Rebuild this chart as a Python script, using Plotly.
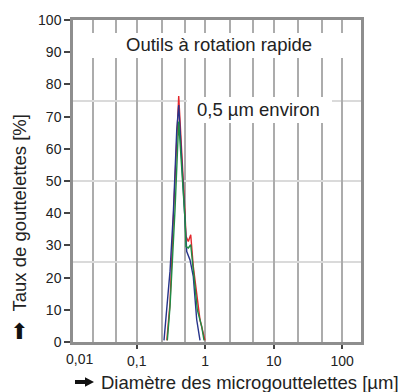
import plotly.graph_objects as go

# ---- data ----
diam_red = [0.275, 0.306, 0.345, 0.410, 0.507, 0.524, 0.566, 0.614, 0.670, 0.751, 0.839, 0.993]
taux_red = [0.5, 12, 40, 76.4, 40, 32.8, 31.2, 33.3, 23.4, 14.1, 6.9, 0.5]

diam_blue = [0.250, 0.274, 0.306, 0.342, 0.384, 0.410, 0.507, 0.537, 0.600, 0.670, 0.751, 0.839]
taux_blue = [0.5, 10, 22, 40, 66, 73.6, 37, 28.1, 25.5, 20.3, 6.9, 0.5]

diam_green = [0.2795, 0.306, 0.362, 0.410, 0.507, 0.524, 0.566, 0.614, 0.670, 0.767, 0.889, 0.960]
taux_green = [0.5, 11, 41, 68.5, 38, 29.6, 29.2, 30.2, 22.4, 10, 4.8, 0.5]

x_major_vals = [0.1, 1, 10, 100]
x_major_text = ["0,1", "1", "10", "100"]
x_grid_vals = [0.023, 0.05, 0.23, 0.5, 2.3, 5, 23, 50]
y_tick_vals = list(range(0, 101, 10))
y_grid_vals = [25, 50, 75]

title_text = "Outils à rotation rapide"
note_text = "0,5 µm environ"
x_title = "Diamètre des microgouttelettes [µm]"
y_title = "Taux de gouttelettes [%]"

FONT = "Liberation Sans, Arial, Helvetica, sans-serif"
FRAME = "#8e8e8e"
GRID = "#acacac"

W, H = 402, 392
ML, MR, MT, MB = 73, 41, 20, 50
PW, PH = W - ML - MR, H - MT - MB


def px(xp):
    return (xp - ML) / PW


def py(yp):
    return (H - MB - yp) / PH


fig = go.Figure()
for xs, ys, col in [(diam_red, taux_red, "#e3262b"),
                    (diam_blue, taux_blue, "#27348b"),
                    (diam_green, taux_green, "#1e8c45")]:
    fig.add_trace(go.Scatter(x=xs, y=ys, mode="lines",
                             line=dict(color=col, width=1.4), showlegend=False))

fig.update_layout(
    width=W, height=H,
    margin=dict(l=ML, r=MR, t=MT, b=MB),
    paper_bgcolor="white", plot_bgcolor="white",
    font=dict(family=FONT, size=14, color="#222222"),
    showlegend=False,
)

fig.update_xaxes(
    type="log", range=[-1.931, 2.275],
    tickmode="array", tickvals=x_major_vals, ticktext=x_major_text,
    ticks="outside", ticklen=4, tickwidth=1.5, tickcolor="#444444",
    showgrid=True, gridcolor=GRID, gridwidth=2,
    minor=dict(tickmode="array", tickvals=x_grid_vals, showgrid=True,
               gridcolor=GRID, gridwidth=2, ticks=""),
    showline=True, mirror=True, linecolor=FRAME, linewidth=2.5,
    zeroline=False, tickfont=dict(size=14, color="#222222"),
)
fig.update_yaxes(
    range=[0, 100],
    tickmode="array", tickvals=y_tick_vals,
    ticks="outside", ticklen=6, tickwidth=1.5, tickcolor="#444444",
    showgrid=False,
    minor=dict(tickmode="array", tickvals=y_grid_vals, showgrid=True,
               gridcolor="#dadada", gridwidth=1.5, ticks=""),
    showline=True, mirror=True, linecolor=FRAME, linewidth=2.5,
    zeroline=False, tickfont=dict(size=14, color="#222222"),
)

# white boxes behind the two labels
fig.add_shape(type="rect", xref="paper", yref="paper",
              x0=px(91), x1=px(353), y0=py(58), y1=py(33),
              fillcolor="white", line=dict(width=0), layer="above")
fig.add_shape(type="rect", xref="paper", yref="paper",
              x0=px(187), x1=px(332), y0=py(123), y1=py(97),
              fillcolor="white", line=dict(width=0), layer="above")

fig.add_annotation(text=title_text, xref="paper", yref="paper",
                   x=px(219), y=py(45), showarrow=False,
                   xanchor="center", yanchor="middle",
                   font=dict(size=18.5, family=FONT, color="#222222"))
fig.add_annotation(text=note_text, xref="paper", yref="paper",
                   x=px(258), y=py(110), showarrow=False,
                   xanchor="center", yanchor="middle",
                   font=dict(size=18.5, family=FONT, color="#222222"))

# "0,01" label
fig.add_annotation(text="0,01", xref="paper", yref="paper",
                   x=px(79), y=py(359), showarrow=False,
                   xanchor="center", yanchor="middle",
                   font=dict(size=14, family=FONT, color="#222222"))

# axis titles
fig.add_annotation(text=x_title, xref="paper", yref="paper",
                   x=px(250), y=py(382), showarrow=False,
                   xanchor="center", yanchor="middle", borderpad=0,
                   font=dict(size=18.5, family=FONT, color="#222222"))
# right-pointing bold arrow before the x title (drawn as a filled path)
arrow_pts = [(75, 380), (85, 380), (85, 377.3), (94, 382), (85, 386.7),
             (85, 384), (75, 384)]
path = "M " + " L ".join(f"{px(a):.5f},{py(b):.5f}" for a, b in arrow_pts) + " Z"
fig.add_shape(type="path", xref="paper", yref="paper", path=path,
              fillcolor="#111111", line=dict(width=0), layer="above")

fig.add_annotation(text=y_title, xref="paper", yref="paper",
                   x=px(18.5), y=py(213), showarrow=False, textangle=-90,
                   xanchor="center", yanchor="middle",
                   font=dict(size=18.5, family=FONT, color="#222222"))
fig.add_annotation(text="⬆", xref="paper", yref="paper",
                   x=px(18.5), y=py(331), showarrow=False,
                   xanchor="center", yanchor="middle",
                   font=dict(size=22, family="DejaVu Sans", color="#111111"))

fig.write_html("out.html", config={"displayModeBar": False},
               post_script="document.body.style.margin='0';document.body.style.overflow='hidden';")
